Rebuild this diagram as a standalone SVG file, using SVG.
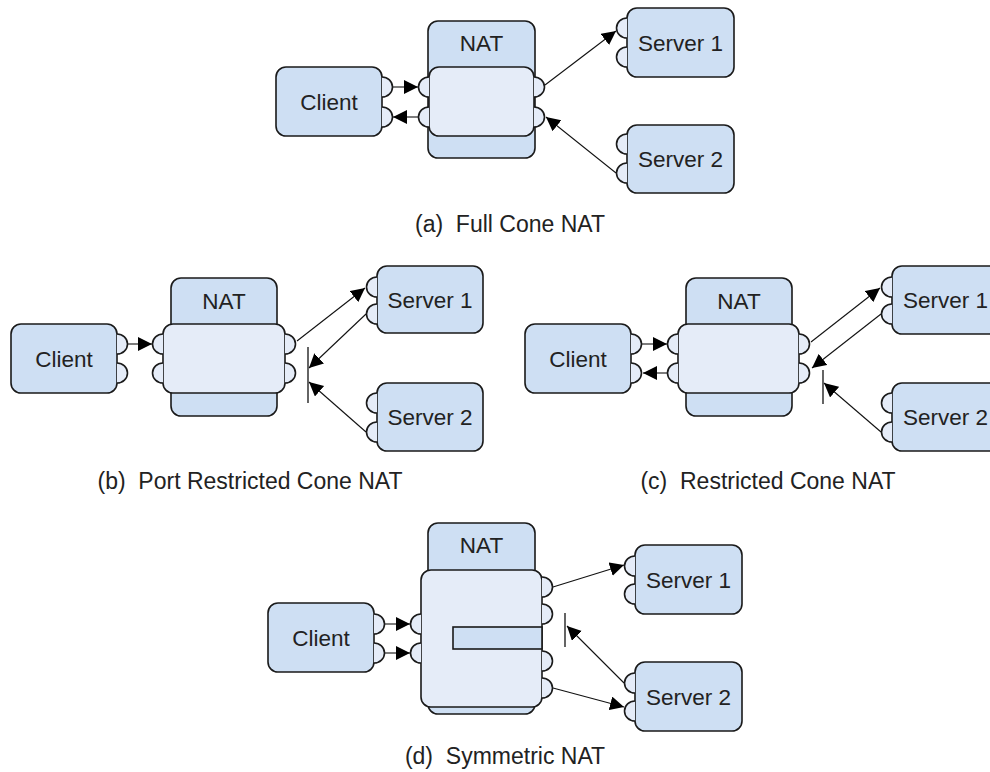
<svg xmlns="http://www.w3.org/2000/svg" width="990" height="772" viewBox="0 0 990 772">
  <style>
    .box { fill: #cedff3; stroke: #1a1a1a; stroke-width: 1.6; }
    .inner { fill: #e5ecf8; stroke: #1a1a1a; stroke-width: 1.6; }
    .port { fill: #e5ecf8; stroke: #1a1a1a; stroke-width: 1.6; }
    .lbl { font-family: "Liberation Sans", Arial, sans-serif; font-size: 22.5px; fill: #222; text-anchor: middle; }
    .cap { font-family: "Liberation Sans", Arial, sans-serif; font-size: 23px; fill: #222; text-anchor: middle; white-space: pre; }
    .edge { stroke: #111; stroke-width: 1.1; fill: none; marker-end: url(#ah); }
    .block { stroke: #111; stroke-width: 1.3; }
  </style>
  <defs>
    <marker id="ah" markerUnits="userSpaceOnUse" markerWidth="15" markerHeight="15" refX="14" refY="7" orient="auto">
      <path d="M0,0 L14,7 L0,14 Z" fill="#000"/>
    </marker>
  </defs>

  <!-- ===== (a) Full Cone NAT ===== -->
  <g id="a-client">
    <rect class="box" x="276" y="67" width="106" height="69" rx="10"/>
    <path class="port" d="M382,77 A10.5,10 0 0 1 382,97"/>
    <path class="port" d="M382,107 A10.5,10 0 0 1 382,127"/>
    <text class="lbl" x="329" y="110">Client</text>
  </g>
  <g id="a-nat">
    <rect class="box" x="428" y="21" width="107" height="137" rx="10"/>
    <rect class="inner" x="429" y="67" width="105" height="69" rx="10"/>
    <path class="port" d="M429,77 A10.5,10 0 0 0 429,97"/>
    <path class="port" d="M429,107 A10.5,10 0 0 0 429,127"/>
    <path class="port" d="M534,77 A10.5,10 0 0 1 534,97"/>
    <path class="port" d="M534,107 A10.5,10 0 0 1 534,127"/>
    <text class="lbl" x="481.5" y="51">NAT</text>
  </g>
  <g id="a-server1">
    <rect class="box" x="627" y="8" width="107" height="69" rx="10"/>
    <path class="port" d="M627,18 A10.5,10 0 0 0 627,38"/>
    <path class="port" d="M627,47 A10.5,10 0 0 0 627,67"/>
    <text class="lbl" x="680.5" y="51">Server 1</text>
  </g>
  <g id="a-server2">
    <rect class="box" x="627" y="125" width="107" height="68" rx="10"/>
    <path class="port" d="M627,134 A10.5,10 0 0 0 627,154"/>
    <path class="port" d="M627,163 A10.5,10 0 0 0 627,183"/>
    <text class="lbl" x="680.5" y="167">Server 2</text>
  </g>
  <text class="cap" x="510" y="232" xml:space="preserve">(a)  Full Cone NAT</text>

  <!-- ===== (b) Port Restricted Cone NAT ===== -->
  <g id="b-client">
    <rect class="box" x="11" y="324" width="106" height="69" rx="10"/>
    <path class="port" d="M117,334 A10.5,10 0 0 1 117,354"/>
    <path class="port" d="M117,363 A10.5,10 0 0 1 117,383"/>
    <text class="lbl" x="64" y="367">Client</text>
  </g>
  <g id="b-nat">
    <rect class="box" x="171" y="278" width="106" height="138" rx="10"/>
    <rect class="inner" x="163" y="324" width="122" height="69" rx="10"/>
    <path class="port" d="M163,334 A10.5,10 0 0 0 163,354"/>
    <path class="port" d="M163,363 A10.5,10 0 0 0 163,383"/>
    <path class="port" d="M285,334 A10.5,10 0 0 1 285,354"/>
    <path class="port" d="M285,363 A10.5,10 0 0 1 285,383"/>
    <text class="lbl" x="224" y="309">NAT</text>
  </g>
  <g id="b-server1">
    <rect class="box" x="377" y="266" width="106" height="67" rx="10"/>
    <path class="port" d="M377,277 A10.5,10 0 0 0 377,297"/>
    <path class="port" d="M377,304 A10.5,10 0 0 0 377,324"/>
    <text class="lbl" x="430" y="307.5">Server 1</text>
  </g>
  <g id="b-server2">
    <rect class="box" x="377" y="383" width="106" height="68" rx="10"/>
    <path class="port" d="M377,393 A10.5,10 0 0 0 377,413"/>
    <path class="port" d="M377,422 A10.5,10 0 0 0 377,442"/>
    <text class="lbl" x="430" y="425">Server 2</text>
  </g>
  <text class="cap" x="250" y="489" xml:space="preserve">(b)  Port Restricted Cone NAT</text>

  <!-- ===== (c) Restricted Cone NAT ===== -->
  <g id="c-client">
    <rect class="box" x="525" y="324" width="106" height="69" rx="10"/>
    <path class="port" d="M631,334 A10.5,10 0 0 1 631,354"/>
    <path class="port" d="M631,363 A10.5,10 0 0 1 631,383"/>
    <text class="lbl" x="578" y="367">Client</text>
  </g>
  <g id="c-nat">
    <rect class="box" x="686" y="278" width="106" height="138" rx="10"/>
    <rect class="inner" x="678" y="324" width="121" height="69" rx="10"/>
    <path class="port" d="M678,334 A10.5,10 0 0 0 678,354"/>
    <path class="port" d="M678,363 A10.5,10 0 0 0 678,383"/>
    <path class="port" d="M799,334 A10.5,10 0 0 1 799,354"/>
    <path class="port" d="M799,363 A10.5,10 0 0 1 799,383"/>
    <text class="lbl" x="739" y="309">NAT</text>
  </g>
  <g id="c-server1">
    <rect class="box" x="892" y="266" width="107" height="68" rx="10"/>
    <path class="port" d="M892,277 A10.5,10 0 0 0 892,297"/>
    <path class="port" d="M892,304 A10.5,10 0 0 0 892,324"/>
    <text class="lbl" x="945.5" y="308">Server 1</text>
  </g>
  <g id="c-server2">
    <rect class="box" x="892" y="383" width="107" height="68" rx="10"/>
    <path class="port" d="M892,393 A10.5,10 0 0 0 892,413"/>
    <path class="port" d="M892,422 A10.5,10 0 0 0 892,442"/>
    <text class="lbl" x="945.5" y="425">Server 2</text>
  </g>
  <text class="cap" x="768" y="489" xml:space="preserve">(c)  Restricted Cone NAT</text>

  <!-- ===== (d) Symmetric NAT ===== -->
  <g id="d-client">
    <rect class="box" x="268" y="603" width="106" height="69" rx="10"/>
    <path class="port" d="M374,614 A10.5,10 0 0 1 374,634"/>
    <path class="port" d="M374,643 A10.5,10 0 0 1 374,663"/>
    <text class="lbl" x="321" y="646">Client</text>
  </g>
  <g id="d-nat">
    <rect class="box" x="428" y="523" width="107" height="191" rx="10"/>
    <rect class="inner" x="421" y="570" width="121" height="137" rx="10"/>
    <rect class="box" x="453" y="627" width="89" height="22"/>
    <path class="port" d="M421,614 A10.5,10 0 0 0 421,634"/>
    <path class="port" d="M421,643 A10.5,10 0 0 0 421,663"/>
    <path class="port" d="M542,577 A10.5,10 0 0 1 542,597"/>
    <path class="port" d="M542,604 A10.5,10 0 0 1 542,624"/>
    <path class="port" d="M542,651 A10.5,10 0 0 1 542,671"/>
    <path class="port" d="M542,678 A10.5,10 0 0 1 542,698"/>
    <text class="lbl" x="481.5" y="553">NAT</text>
  </g>
  <g id="d-server1">
    <rect class="box" x="635" y="545" width="107" height="69" rx="10"/>
    <path class="port" d="M635,556 A10.5,10 0 0 0 635,576"/>
    <path class="port" d="M635,584 A10.5,10 0 0 0 635,604"/>
    <text class="lbl" x="688.5" y="588">Server 1</text>
  </g>
  <g id="d-server2">
    <rect class="box" x="635" y="662" width="107" height="69" rx="10"/>
    <path class="port" d="M635,673 A10.5,10 0 0 0 635,693"/>
    <path class="port" d="M635,701 A10.5,10 0 0 0 635,721"/>
    <text class="lbl" x="688.5" y="705">Server 2</text>
  </g>
  <text class="cap" x="505" y="764" xml:space="preserve">(d)  Symmetric NAT</text>

  <!-- connectors -->
  <g id="connectors">
    <!-- (a) -->
    <line class="edge" x1="393" y1="87" x2="418" y2="87"/>
    <line class="edge" x1="418" y1="117" x2="393" y2="117"/>
    <line class="edge" x1="545" y1="85" x2="616" y2="31"/>
    <line class="edge" x1="616" y1="173" x2="546" y2="117"/>
    <!-- (b) -->
    <line class="edge" x1="128" y1="344" x2="152" y2="344"/>
    <line class="edge" x1="297" y1="341" x2="365" y2="288"/>
    <line class="edge" x1="366" y1="314" x2="309" y2="368"/>
    <line class="edge" x1="366" y1="432" x2="309" y2="382"/>
    <line class="block" x1="308" y1="347" x2="308" y2="403"/>
    <!-- (c) -->
    <line class="edge" x1="642" y1="344" x2="667" y2="344"/>
    <line class="edge" x1="667" y1="373" x2="643" y2="373"/>
    <line class="edge" x1="811" y1="342" x2="880" y2="288"/>
    <line class="edge" x1="881" y1="314" x2="812" y2="368"/>
    <line class="edge" x1="881" y1="432" x2="824" y2="383"/>
    <line class="block" x1="823" y1="370" x2="823" y2="404"/>
    <!-- (d) -->
    <line class="edge" x1="385" y1="624" x2="410" y2="624"/>
    <line class="edge" x1="385" y1="653" x2="410" y2="653"/>
    <line class="edge" x1="553" y1="587" x2="624" y2="565"/>
    <line class="edge" x1="624" y1="683" x2="567" y2="626"/>
    <line class="edge" x1="553" y1="688" x2="624" y2="707"/>
    <line class="block" x1="565" y1="613" x2="565" y2="647"/>
  </g>
</svg>
